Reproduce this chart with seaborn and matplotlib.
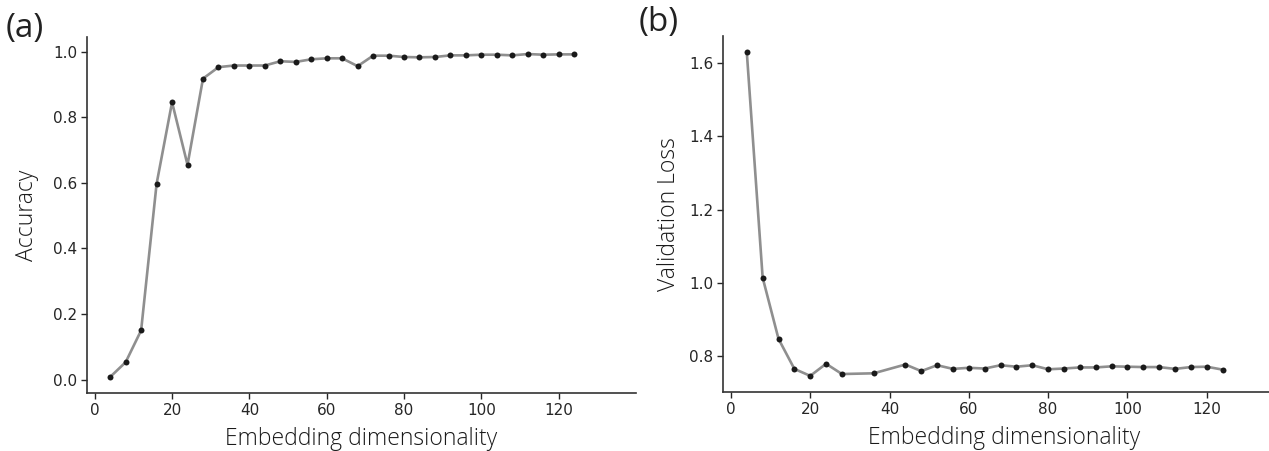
import matplotlib
matplotlib.use("Agg")
import matplotlib.pyplot as plt
import seaborn as sns
import pandas as pd

# ---- data ----
acc_dims = [4, 8, 12, 16, 20, 24, 28, 32, 36, 40, 44, 48, 52, 56, 60, 64, 68,
            72, 76, 80, 84, 88, 92, 96, 100, 104, 108, 112, 116, 120, 124]
accuracy = [0.008, 0.053, 0.150, 0.597, 0.846, 0.655, 0.918, 0.953, 0.958, 0.958,
            0.958, 0.971, 0.969, 0.977, 0.980, 0.980, 0.956, 0.988, 0.988, 0.984,
            0.983, 0.984, 0.989, 0.989, 0.991, 0.991, 0.989, 0.993, 0.991, 0.992, 0.992]

loss_dims = [4, 8, 12, 16, 20, 24, 28, 36, 44, 48, 52, 56, 60, 64, 68, 72, 76,
             80, 84, 88, 92, 96, 100, 104, 108, 112, 116, 120, 124]
val_loss = [1.630, 1.015, 0.848, 0.766, 0.747, 0.780, 0.752, 0.754, 0.778, 0.760,
            0.776, 0.766, 0.769, 0.767, 0.776, 0.772, 0.776, 0.765, 0.767, 0.770,
            0.770, 0.773, 0.772, 0.771, 0.771, 0.766, 0.771, 0.772, 0.764]

xlabel = "Embedding dimensionality"
ylabels = ["Accuracy", "Validation Loss"]
panel_labels = ["(a)", "(b)"]

sns.set_theme(style="ticks")
plt.rcParams["font.family"] = ["DejaVu Sans"]

fig = plt.figure(figsize=(12.69, 4.51), dpi=100)
ax1 = fig.add_axes([87 / 1269, 1 - 393 / 451, (636 - 87) / 1269, (393 - 37) / 451])
ax2 = fig.add_axes([723 / 1269, 1 - 392 / 451, (1286 - 723) / 1269, (392 - 36) / 451])

df_a = pd.DataFrame({"dim": acc_dims, "val": accuracy})
df_b = pd.DataFrame({"dim": loss_dims, "val": val_loss})

line_kw = dict(color="#8f8f8f", linewidth=1.9, marker="o", markersize=4.3,
               markerfacecolor="#1a1a1a", markeredgecolor="#1a1a1a", markeredgewidth=0)

label_font = dict(fontsize=16.5, family="Open Sans", fontweight="light", color="#1a1a1a")

for ax, df, yl, pad in [(ax1, df_a, ylabels[0], 10),
                        (ax2, df_b, ylabels[1], 6)]:
    sns.lineplot(data=df, x="dim", y="val", ax=ax, **line_kw)
    ax.set_xlim(-2, 140)
    ax.set_xticks([0, 20, 40, 60, 80, 100, 120])
    ax.set_xlabel(xlabel, labelpad=7, **label_font)
    ax.set_ylabel(yl, labelpad=pad, **label_font)
    ax.tick_params(labelsize=11, colors="#262626", length=4, width=1, pad=3)
    for s in ["left", "bottom"]:
        ax.spines[s].set_color("#333333")
        ax.spines[s].set_linewidth(1.2)
    sns.despine(ax=ax)

ax1.set_ylim(-0.041, 1.045)
ax1.set_yticks([0.0, 0.2, 0.4, 0.6, 0.8, 1.0])
ax2.set_ylim(0.703, 1.674)
ax2.set_yticks([0.8, 1.0, 1.2, 1.4, 1.6])

fig.text(6 / 1269, 1 - 28 / 451, panel_labels[0], fontsize=24, family="Open Sans",
         color="#222222", va="center", ha="left")
fig.text(639 / 1269, 1 - 23 / 451, panel_labels[1], fontsize=24, family="Open Sans",
         color="#222222", va="center", ha="left")

fig.savefig("out.png", dpi=100)
